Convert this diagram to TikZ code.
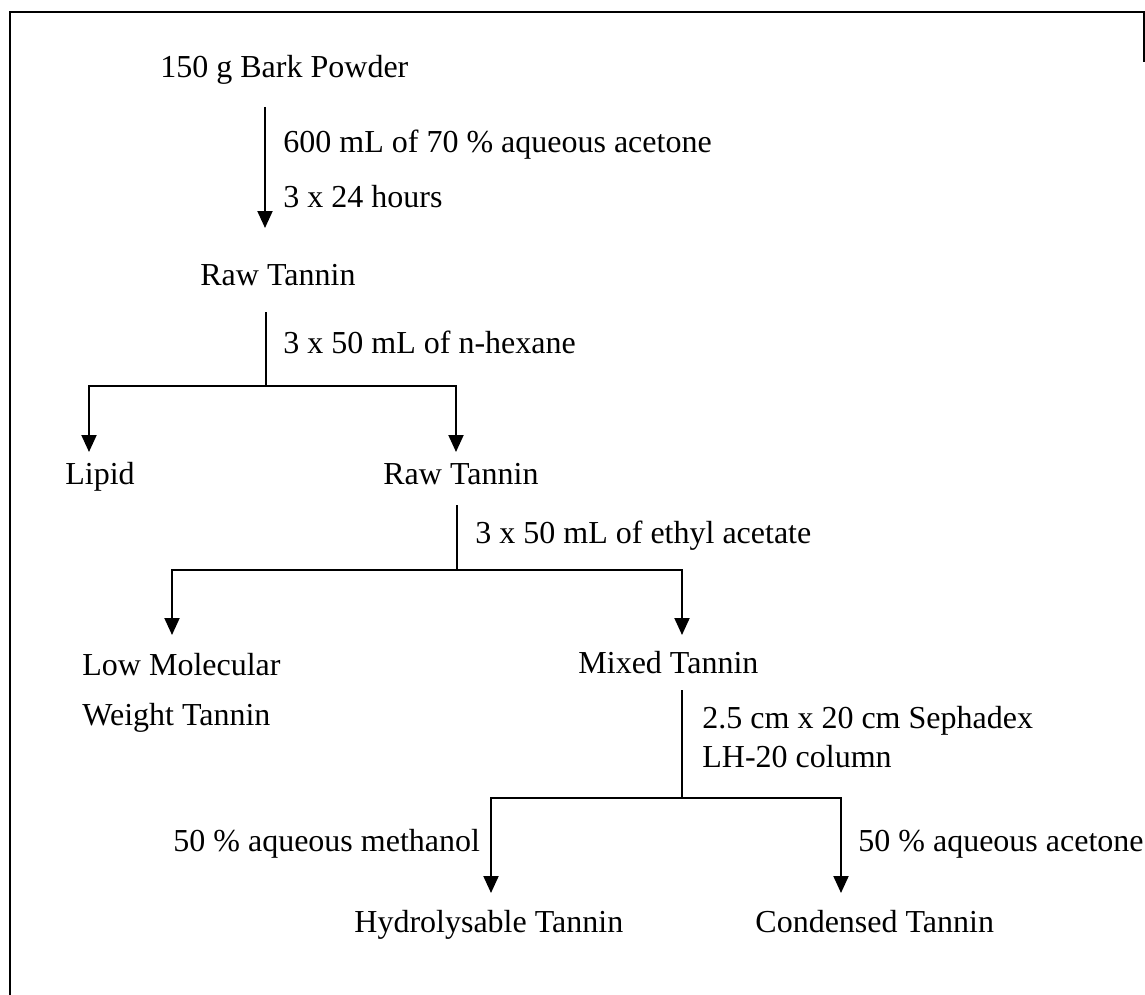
\documentclass[tikz,border=0pt]{standalone}
\usepackage{fontspec}
\setmainfont{Liberation Serif}
\usetikzlibrary{arrows.meta}
\tikzset{
        lbl/.style={anchor=base west, inner sep=0pt, font=\fontsize{16}{19}\selectfont},
        flow/.style={line width=1pt},
        flowarrow/.style={line width=1pt, -{Triangle[width=7.5pt,length=8.5pt]}},
        frameline/.style={line width=1.2pt}
          }

\begin{document}
\begin{tikzpicture}[x=0.5pt,y=-0.5pt]
      \useasboundingbox (0,0) rectangle (1145,995);
      \draw[frameline] (10,995) -- (10,12) -- (1144,12) -- (1144,62);

      \node[lbl] (bark) at (160,78) {150 g Bark Powder};
      \node[lbl] (c1a) at (283,152) {600 mL of 70 \% aqueous acetone};
      \node[lbl] (c1b) at (283,207) {3 x 24 hours};
      \node[lbl] (raw1) at (200,285) {Raw Tannin};
      \node[lbl] (c2) at (283,353) {3 x 50 mL of n-hexane};
      \node[lbl] (lipid) at (65,484) {Lipid};
      \node[lbl] (raw2) at (383,484) {Raw Tannin};
      \node[lbl] (c3) at (475,543) {3 x 50 mL of ethyl acetate};
      \node[lbl] (lmw1) at (82,675) {Low Molecular};
      \node[lbl] (lmw2) at (82,725) {Weight Tannin};
      \node[lbl] (mixed) at (578,673) {Mixed Tannin};
      \node[lbl] (c4a) at (702,728) {2.5 cm x 20 cm Sephadex};
      \node[lbl] (c4b) at (702,767) {LH-20 column};
      \node[lbl] (c5) at (173,851) {50 \% aqueous methanol};
      \node[lbl] (c6) at (858,851) {50 \% aqueous acetone};
      \node[lbl] (hydro) at (354,932) {Hydrolysable Tannin};
      \node[lbl] (cond) at (755,932) {Condensed Tannin};

      \coordinate (s1) at (265,107);
      \coordinate (e1) at (265,228);
      \coordinate (s2) at (266,312);
      \coordinate (j2) at (266,386);
      \coordinate (t2l) at (89,452);
      \coordinate (t2r) at (456,452);
      \coordinate (s3) at (457,505);
      \coordinate (j3) at (457,570);
      \coordinate (t3l) at (172,635);
      \coordinate (t3r) at (682,635);
      \coordinate (s4) at (682,690);
      \coordinate (j4) at (682,798);
      \coordinate (t4l) at (491,893);
      \coordinate (t4r) at (841,893);

      \draw[flowarrow] (s1) -- (e1);
      \draw[flow] (s2) -- (j2);
      \draw[flowarrow] (j2) -| (t2l);
      \draw[flowarrow] (j2) -| (t2r);
      \draw[flow] (s3) -- (j3);
      \draw[flowarrow] (j3) -| (t3l);
      \draw[flowarrow] (j3) -| (t3r);
      \draw[flow] (s4) -- (j4);
      \draw[flowarrow] (j4) -| (t4l);
      \draw[flowarrow] (j4) -| (t4r);
\end{tikzpicture}
\end{document}
